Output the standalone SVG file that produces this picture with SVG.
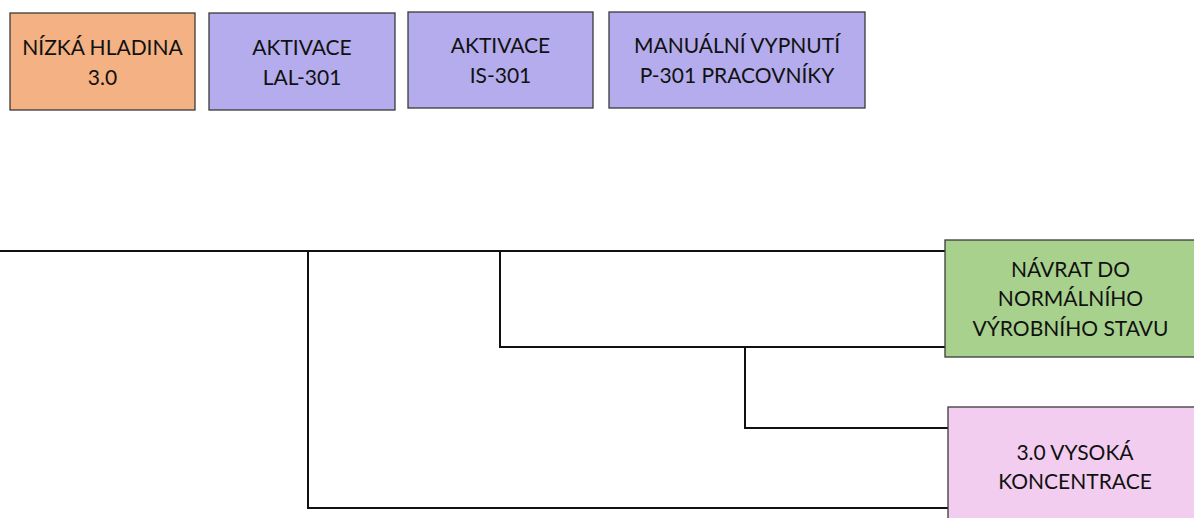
<svg xmlns="http://www.w3.org/2000/svg" width="1194" height="518" viewBox="0 0 1194 518">
  <style>
    .box { stroke: #3a3a3a; stroke-width: 1.3; }
    .orange { fill: #F4B183; }
    .purple { fill: #B4ACEC; }
    .green { fill: #A9D18E; }
    .pink { fill: #F2CDEF; }
    .lbl { font-family: Lato, "Open Sans", "Liberation Sans", sans-serif; font-size: 21px; fill: #111; text-anchor: middle; }
    .wire { fill: none; stroke: #111; stroke-width: 2; }
  </style>
  <rect width="1194" height="518" fill="#fff"/>

  <g id="connectors">
    <path class="wire" d="M0 251 H945"/>
    <path class="wire" d="M308 251 V508 H948"/>
    <path class="wire" d="M500 251 V347 H945"/>
    <path class="wire" d="M745 347 V428 H948"/>
  </g>

  <g id="nizka-hladina">
    <rect class="box orange" x="10" y="13" width="185" height="97"/>
    <text class="lbl" x="102.5" y="55">NÍZKÁ HLADINA</text>
    <text class="lbl" x="102.5" y="85">3.0</text>
  </g>

  <g id="aktivace-lal">
    <rect class="box purple" x="209" y="13" width="186" height="97"/>
    <text class="lbl" x="302" y="55">AKTIVACE</text>
    <text class="lbl" x="302" y="85">LAL-301</text>
  </g>

  <g id="aktivace-is">
    <rect class="box purple" x="408" y="12" width="185" height="96"/>
    <text class="lbl" x="500.5" y="53">AKTIVACE</text>
    <text class="lbl" x="500.5" y="83">IS-301</text>
  </g>

  <g id="manualni-vypnuti">
    <rect class="box purple" x="609" y="12" width="256" height="96"/>
    <text class="lbl" x="737" y="53">MANUÁLNÍ VYPNUTÍ</text>
    <text class="lbl" x="737" y="83">P-301 PRACOVNÍKY</text>
  </g>

  <g id="navrat">
    <rect class="box green" x="945" y="240" width="252" height="117"/>
    <text class="lbl" x="1070.5" y="277">NÁVRAT DO</text>
    <text class="lbl" x="1070.5" y="306">NORMÁLNÍHO</text>
    <text class="lbl" x="1070.5" y="336">VÝROBNÍHO STAVU</text>
  </g>

  <g id="vysoka-koncentrace">
    <rect class="box pink" x="948" y="407" width="254" height="120"/>
    <text class="lbl" x="1075" y="460">3.0 VYSOKÁ</text>
    <text class="lbl" x="1075" y="489">KONCENTRACE</text>
  </g>
</svg>
